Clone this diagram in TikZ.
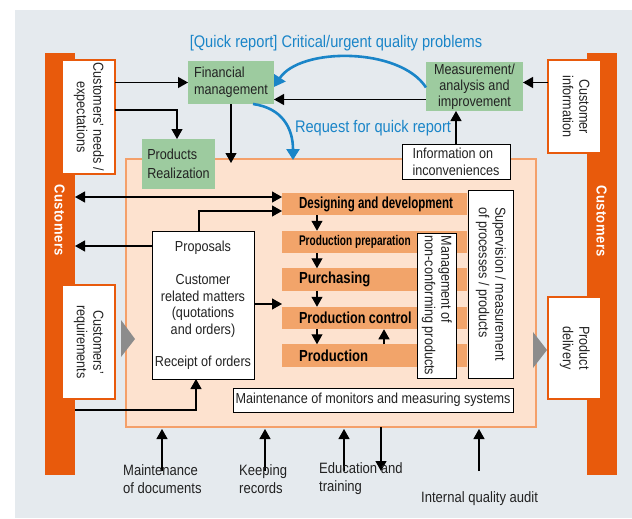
\documentclass[tikz,border=0pt]{standalone}
\usepackage{fontspec}
\usepackage{graphicx}
\setmainfont{Liberation Sans}[FakeStretch=0.87]
\newfontfamily\barfont{Liberation Sans}[FakeStretch=0.82]
\newfontfamily\custfont{Liberation Sans}[FakeStretch=0.9, LetterSpace=3]
\usetikzlibrary{arrows.meta}
\definecolor{bgc}{HTML}{E5EAEE}
\definecolor{obar}{HTML}{E85A0C}
\definecolor{peachf}{HTML}{FDE2CF}
\definecolor{peachd}{HTML}{F4A06A}
\definecolor{pbarc}{HTML}{F2A46A}
\definecolor{grn}{HTML}{9DCB9F}
\definecolor{bluec}{HTML}{1A85C8}
\definecolor{txt}{HTML}{222222}
\definecolor{trig}{HTML}{8C8C8C}
\tikzset{
  box/.style={inner sep=0pt, outer sep=0pt, text=txt, font=\fontsize{14.5}{16.5}\selectfont, align=center},
  whitebox/.style={box, draw=black, line width=0.8pt, fill=white},
  obox/.style={box, draw=obar, line width=1.5pt, fill=white},
  gbox/.style={box, fill=grn},
  custbar/.style={inner sep=0pt, outer sep=0pt, fill=obar, minimum width=30pt, minimum height=422pt},
  custtext/.style={inner sep=0pt, text=white, font=\custfont\bfseries\fontsize{14.5}{16}\selectfont},
  pbar/.style={inner sep=0pt, outer sep=0pt, fill=pbarc, minimum width=185pt, minimum height=22.5pt, text=black, font=\barfont\bfseries\fontsize{16}{18}\selectfont},
  arr/.style={draw=black, line width=1.2pt, -{Triangle[length=10pt,width=11pt]}},
  dblarr/.style={draw=black, line width=1.2pt, {Triangle[length=10pt,width=11pt]}-{Triangle[length=10pt,width=11pt]}},
  barr/.style={draw=bluec, line width=2.6pt, -{Triangle[length=11pt,width=13pt]}},
  bluelab/.style={inner sep=0pt, text=bluec, font=\fontsize{16.8}{19}\selectfont},
  botlab/.style={inner sep=0pt, text=txt, align=left, font=\fontsize{15}{18}\selectfont},
  tri/.style={fill=trig}
}
\begin{document}
\begin{tikzpicture}[x=1pt,y=-1pt]
\useasboundingbox (0,0) rectangle (632,519);
\fill[bgc] (15,10) rectangle (632,518);

% customers bars
\node[custbar] (lbar) at (60,264) {};
\node[custbar] (rbar) at (602,264) {};
\node[custtext] (lcust) at (59.5,220) {\rotatebox{-90}{Customers}};
\node[custtext] (rcust) at (601.5,221) {\rotatebox{-90}{Customers}};

% side boxes
\node[obox, minimum width=53pt, minimum height=114pt] (needs) at (88.5,117)
  {\rotatebox{-90}{\begin{tabular}{@{}c@{}}Customers’ needs /\\expectations\end{tabular}}};
\node[obox, minimum width=53pt, minimum height=114pt] (req) at (88.5,342)
  {\rotatebox{-90}{\begin{tabular}{@{}c@{}}Customers’\\requirements\end{tabular}}};
\node[obox, minimum width=53pt, minimum height=93pt] (cinfo) at (574.5,106.5)
  {\rotatebox{-90}{\begin{tabular}{@{}c@{}}Customer\\information\end{tabular}}};
\node[obox, minimum width=53pt, minimum height=102pt] (deliv) at (574.5,348)
  {\rotatebox{-90}{\begin{tabular}{@{}c@{}}Product\\delivery\end{tabular}}};

% peach area
\node[inner sep=0pt, outer sep=0pt, fill=peachf, draw=peachd, line width=2pt, minimum width=410pt, minimum height=268pt] (peach) at (331,293) {};

% grey triangles
\fill[tri] ([xshift=6pt,yshift=22pt]req.east) -- ([xshift=20pt,yshift=3pt]req.east) -- ([xshift=6pt,yshift=-15pt]req.east) -- cycle;
\fill[tri] ([xshift=-15pt,yshift=16pt]deliv.west) -- ([xshift=-1pt,yshift=-2pt]deliv.west) -- ([xshift=-15pt,yshift=-20pt]deliv.west) -- cycle;

% green boxes
\node[gbox, minimum width=86pt, minimum height=43pt, align=left] (fin) at (231,82.5)
  {Financial\\management};
\node[gbox, minimum width=97pt, minimum height=49pt, font=\fontsize{14.5}{16}\selectfont] (meas) at (474.5,86.5)
  {Measurement/\\analysis and\\improvement};
\node[gbox, minimum width=73pt, minimum height=50pt, align=left] (preal) at (178.5,164)
  {Products\\[3pt]Realization};
\node[whitebox, minimum width=108pt, minimum height=35pt, align=left, font=\fontsize{14.5}{17}\selectfont] (info) at (456,161.5)
  {Information on\\inconveniences};

% process bars
\node[pbar] (design) at (374.5,204) {\makebox[185pt][l]{\hspace{17pt}\scalebox{0.88}[1]{Designing and development}}};
\node[pbar, font=\barfont\bfseries\fontsize{14}{16}\selectfont] (prep) at (374.5,242) {\makebox[185pt][l]{\hspace{17pt}\scalebox{0.88}[1]{Production preparation}}};
\node[pbar] (purch) at (374.5,279.5) {\makebox[185pt][l]{\hspace{17pt}Purchasing}};
\node[pbar] (pcontrol) at (374.5,318) {\makebox[185pt][l]{\hspace{17pt}\scalebox{0.96}[1]{Production control}}};
\node[pbar] (prod) at (374.5,355.5) {\makebox[185pt][l]{\hspace{17pt}Production}};

\node[whitebox, minimum width=39pt, minimum height=145pt] (mgmt) at (436.5,305.5)
  {\rotatebox{-90}{\begin{tabular}{@{}l@{}}Management of\\non-conforming products\end{tabular}}};
\node[whitebox, minimum width=45pt, minimum height=188pt] (superv) at (490.5,284)
  {\rotatebox{-90}{\begin{tabular}{@{}l@{}}Supervision / measurement\\of processes / products\end{tabular}}};
\node[whitebox, minimum width=280pt, minimum height=24pt] (monit) at (373,400)
  {Maintenance of monitors and measuring systems};
\node[whitebox, minimum width=102pt, minimum height=148pt] (prop) at (203,305)
  {Proposals\\[17pt]Customer\\related matters\\(quotations\\and orders)\\[16pt]Receipt of orders};

% blue labels
\node[bluelab] (qr) at (336,43) {[Quick report] Critical/urgent quality problems};
\node[bluelab] (rq) at (373,128) {Request for quick report};

% connectors top
\draw[arr] (needs.east |- fin.west) -- (fin.west);
\draw[arr] ([yshift=-50pt]needs.north east) -| ([xshift=-1.5pt]preal.north);
\draw[arr] (fin.south) -- ([yshift=-4pt]fin.south |- peach.north);
\draw[arr] ([yshift=-13pt]meas.west) -- ([yshift=-13pt]meas.west -| fin.east);
\draw[arr] ([yshift=24pt]cinfo.west) -- ([yshift=24pt]cinfo.west -| meas.east);
\draw[arr] (info.north) -- (info.north |- meas.south);

% blue curves
\draw[barr] ([yshift=-1pt]meas.west) .. controls (400,47) and (300,47) .. ([yshift=-4.5pt]fin.east);
\draw[barr] ([xshift=22pt]fin.south) .. controls (282,108) and (293,128) .. ([xshift=-38pt,yshift=-1pt]peach.north);

% left side connectors
\draw[dblarr] ([yshift=7pt]design.west -| lbar.east) -- ([yshift=7pt]design.west);
\draw[arr] ([xshift=-4pt]prop.north) |- ([yshift=-7pt]design.west);
\draw[arr] ([yshift=-15pt]prop.north west) -- ([yshift=-15pt]prop.north west -| lbar.east);
\draw[arr] ([yshift=1pt]prop.east) -- ([yshift=1pt]prop.east -| design.west);
\draw[arr] ([yshift=-146pt]lbar.east) -| ([xshift=-7pt]prop.south);

% flow arrows
\draw[arr] ([xshift=-57.5pt]design.south) -- ([xshift=-57.5pt]prep.north);
\draw[arr] ([xshift=-57.5pt]prep.south) -- ([xshift=-57.5pt]purch.north);
\draw[arr] ([xshift=-57.5pt]purch.south) -- ([xshift=-57.5pt]pcontrol.north);
\draw[arr] ([xshift=-57.5pt]pcontrol.south) -- ([xshift=-57.5pt]prod.north);
\draw[arr] ([xshift=9.5pt]prod.north) -- ([xshift=9.5pt]pcontrol.south);

% bottom arrows
\coordinate (b1) at (162,471);
\coordinate (b2) at (265,471);
\coordinate (b3) at (344,471);
\coordinate (b4) at (381,471);
\coordinate (b5) at (479,471);
\draw[arr] (b1) -- ([yshift=-2pt]b1 |- peach.south);
\draw[arr] (b2) -- ([yshift=-2pt]b2 |- peach.south);
\draw[arr] (b3) -- ([yshift=-2pt]b3 |- peach.south);
\draw[arr] (b4 |- peach.south) -- (b4);
\draw[arr] (b5) -- ([yshift=-2pt]b5 |- peach.south);

% bottom labels
\node[botlab, anchor=base west] (l1) at (123,493) {Maintenance\\of documents};
\node[botlab, anchor=base west] (l2) at (239,493) {Keeping\\records};
\node[botlab, anchor=base west] (l3) at (319,491) {Education and\\training};
\node[botlab, anchor=base west] (l4) at (421,502) {Internal quality audit};
\end{tikzpicture}
\end{document}
